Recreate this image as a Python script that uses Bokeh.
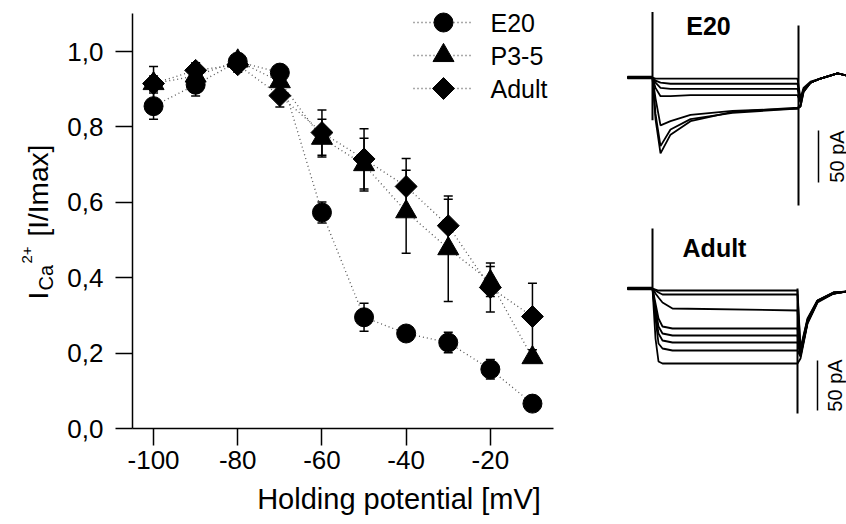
import math
from bokeh.plotting import figure
from bokeh.models import (Range1d, Whisker, TeeHead, ColumnDataSource, Label,
                          FixedTicker, CustomJSTickFormatter)
from bokeh.layouts import row, column
from bokeh.embed import file_html
from bokeh.resources import INLINE

FONT = "Liberation Sans"

# ---------------- data: steady-state inactivation ----------------
voltage = [-100, -90, -80, -70, -60, -50, -40, -30, -20, -10]
tick_mv = [-100, -80, -60, -40, -20]
tick_rel = [0.0, 0.2, 0.4, 0.6, 0.8, 1.0]

e20 = [0.855, 0.912, 0.973, 0.944, 0.573, 0.295, 0.252, 0.228, 0.157, 0.066]
e20_err = [0.035, 0.03, 0.02, 0.01, 0.028, 0.037, 0.01, 0.027, 0.026, 0.0]
p35 = [0.915, 0.935, 0.975, 0.92, 0.77, 0.70, 0.575, 0.477, 0.39, 0.188]
p35_err = [0.045, 0.03, 0.02, 0.02, 0.05, 0.07, 0.11, 0.14, 0.04, 0.0]
adult = [0.915, 0.95, 0.965, 0.883, 0.785, 0.715, 0.642, 0.538, 0.374, 0.297]
adult_err = [0.02, 0.02, 0.02, 0.03, 0.06, 0.08, 0.074, 0.07, 0.065, 0.088]

series_names = ["E20", "P3-5", "Adult"]

# ---------------- data: current traces (time ms, current pA) ----------------
e20_t = [-25, 0, 3, 8, 18, 38, 80, 145, 148, 151, 158, 168, 185, 194]
e20_traces = [
    [0, 0, -1, -1, -1, -1, -1, -1, -20, -10, -4, -1, 4, 2],
    [0, 0, -3, -5, -6, -6, -6, -6, -22, -12, -5, -1, 4, 2],
    [0, 0, -5, -10, -11, -11, -11, -11, -22, -12, -5, -1, 4, 2],
    [0, 0, -10, -18, -18, -17, -17, -17, -24, -12, -5, -1, 4, 2],
    [0, 0, -20, -46, -42, -36, -32, -30, -26, -13, -5, -1, 4, 2],
    [0, 0, -35, -66, -50, -40, -34, -30, -28, -14, -5, -1, 4, 2],
    [0, 0, -40, -73, -55, -42, -33, -29, -28, -14, -5, -1, 4, 2],
]
e20_artifact_t = [0, 146]
e20_artifact_top = [63, 50]
e20_artifact_bottom = [-41, -123]

adult_t = [-25, 0, 3, 6, 10, 20, 145, 148, 155, 165, 181, 194]
adult_traces = [
    [0, 0, -1, -2, -2, -2, -2, -60, -30, -12, -4, -3],
    [0, 0, -2, -4, -6, -6, -6, -62, -31, -12, -4, -3],
    [0, 0, -5, -9, -14, -20, -22, -63, -32, -12, -4, -3],
    [0, 0, -15, -30, -38, -40, -40, -65, -33, -13, -5, -3],
    [0, 0, -20, -38, -45, -47, -47, -66, -33, -13, -5, -3],
    [0, 0, -25, -45, -52, -54, -54, -67, -34, -13, -5, -3],
    [0, 0, -30, -55, -60, -62, -62, -68, -34, -13, -5, -3],
    [0, 0, -50, -73, -75, -75, -75, -70, -35, -14, -5, -3],
]
adult_artifact_t = [0, 145]
adult_artifact_top = [60, 0]
adult_artifact_bottom = [0, -125]

scale_bar_pA = 50

# ---------------- layout constants (page pixels) ----------------
YLAB_W = 64
MAIN_W = 560 - YLAB_W
MAIN_H = 482
XLAB_H = 524 - MAIN_H
FRAME_L = 132                    # page x of frame left
FRAME_B = 428                    # page y of frame bottom
BL, BR, BT = FRAME_L - YLAB_W, 7, 0
BB = MAIN_H - FRAME_B
XPX = 4.21                       # px per mV
YPX = 377.0                      # px per unit
XR = (-105, -105 + (MAIN_W - BL - BR) / XPX)
YR = (0, FRAME_B / YPX)


def dx(px):
    return XR[0] + (px - FRAME_L) / XPX


def dy(py):
    return (FRAME_B - py) / YPX


# ---------------- main plot ----------------
p = figure(width=MAIN_W, height=MAIN_H, x_range=Range1d(*XR), y_range=Range1d(*YR),
           output_backend="svg", toolbar_location=None, title=None,
           min_border_left=BL, min_border_right=BR, min_border_top=BT,
           min_border_bottom=BB)
p.xgrid.visible = False
p.ygrid.visible = False
p.outline_line_color = None

for ax in (p.xaxis[0], p.yaxis[0]):
    ax.axis_line_color = "black"
    ax.axis_line_width = 1.5
    ax.major_tick_line_color = "black"
    ax.major_tick_line_width = 1.5
    ax.major_tick_out = 17
    ax.major_tick_in = 0
    ax.minor_tick_out = 0
    ax.minor_tick_in = 0
    ax.major_label_text_font = FONT
    ax.major_label_text_font_size = "26px"
    ax.major_label_text_color = "black"

p.xaxis.ticker = FixedTicker(ticks=tick_mv)
p.yaxis.ticker = FixedTicker(ticks=tick_rel)
p.xaxis.formatter = CustomJSTickFormatter(code="return tick.toFixed(0);")
p.yaxis.formatter = CustomJSTickFormatter(code="return tick.toFixed(1).replace('.', ',');")
p.yaxis.major_label_standoff = 12
p.xaxis.major_label_standoff = 5
p.yaxis.bounds = (0, 1.1)

markers = [("circle", 19, 0.0), ("triangle", 21, 0.0), ("square", 15.5, math.pi / 4)]
vals = [e20, p35, adult]
errs = [e20_err, p35_err, adult_err]
LINE_COL = "#555555"
DASH = "1 3"

for v in vals:
    p.line(voltage, v, line_color=LINE_COL, line_width=1.3, line_dash=DASH)

for v, e in zip(vals, errs):
    xs = [x for x, ee in zip(voltage, e) if ee > 0]
    up = [y + ee for y, ee in zip(v, e) if ee > 0]
    lo = [y - ee for y, ee in zip(v, e) if ee > 0]
    src = ColumnDataSource(dict(base=xs, upper=up, lower=lo))
    w = Whisker(source=src, base="base", upper="upper", lower="lower",
                line_color="black", line_width=1.5,
                upper_head=TeeHead(size=9, line_width=1.5, line_color="black"),
                lower_head=TeeHead(size=9, line_width=1.5, line_color="black"))
    p.add_layout(w)

for (mk, sz, ang), v in zip(markers, vals):
    p.scatter(voltage, v, marker=mk, size=sz, angle=ang,
              fill_color="black", line_color="black")

# legend (drawn in the frame, top right)
LEG_Y = [22, 55, 88]
LEG_X0, LEG_XM, LEG_X1, LEG_TX = 413, 443, 472, 490
for (mk, sz, ang), name, ly in zip(markers, series_names, LEG_Y):
    p.segment([dx(LEG_X0)], [dy(ly)], [dx(LEG_X1)], [dy(ly)],
              line_color=LINE_COL, line_width=1.3, line_dash=DASH)
    p.scatter([dx(LEG_XM)], [dy(ly)], marker=mk, size=sz, angle=ang,
              fill_color="black", line_color="black")
    p.add_layout(Label(x=dx(LEG_TX), y=dy(ly), text=name, text_font=FONT,
                       text_font_size="25px", text_baseline="middle",
                       text_align="left", text_color="black"))


# ---------------- axis titles (own strips) ----------------
def blank(w, h):
    f = figure(width=w, height=h, x_range=Range1d(0, w), y_range=Range1d(h, 0),
               output_backend="svg", toolbar_location=None, title=None,
               x_axis_location=None, y_axis_location=None, min_border=0)
    f.xgrid.visible = False
    f.ygrid.visible = False
    f.outline_line_color = None
    return f


xlab = blank(MAIN_W, XLAB_H)
xlab.add_layout(Label(x=378 - YLAB_W, y=498 - MAIN_H, text="Holding potential [mV]",
                      text_font=FONT, text_font_size="29px", text_align="center",
                      text_baseline="middle", text_color="black"))

ylab = blank(YLAB_W, 524)
ylab_parts = [
    ("I", 38, 299, "28px"),
    ("Ca", 45, 290, "20px"),
    ("2+", 26, 263, "15px"),
    ("[I/Imax]", 38, 236, "28px"),
]
for txt, bx, sy, fs in ylab_parts:
    ylab.add_layout(Label(x=bx, y=sy, text=txt, angle=math.pi / 2,
                          angle_units="rad", text_font=FONT, text_font_size=fs,
                          text_align="left", text_baseline="alphabetic",
                          text_color="black"))

# ---------------- trace panels ----------------
W2 = 846 - 560
TX = (-92, -92 + W2)


def trace_panel(h, yr, t, traces, at, atop, abot, name, name_pos, bar_t, bar_lo, txt_t):
    f = figure(width=W2, height=h, x_range=Range1d(*TX), y_range=Range1d(*yr),
               output_backend="svg", toolbar_location=None, title=None,
               x_axis_location=None, y_axis_location=None, min_border=0)
    f.xgrid.visible = False
    f.ygrid.visible = False
    f.outline_line_color = None
    for tr in traces:
        f.line(t, tr, line_color="black", line_width=1.8)
    f.line([t[0], t[1]], [traces[0][0], traces[0][1]], line_color="black", line_width=3.5)
    f.segment(at, atop, at, abot, line_color="black", line_width=2)
    f.segment([bar_t], [bar_lo], [bar_t], [bar_lo - scale_bar_pA],
              line_color="black", line_width=1.5)
    f.add_layout(Label(x=txt_t, y=bar_lo - scale_bar_pA / 2, text=f"{scale_bar_pA} pA",
                       angle=math.pi / 2, angle_units="rad", text_font=FONT,
                       text_font_size="20px", text_align="center",
                       text_baseline="middle", text_color="black"))
    f.add_layout(Label(x=name_pos[0], y=name_pos[1], text=name, text_font=FONT,
                       text_font_size="25px", text_font_style="bold",
                       text_align="center", text_baseline="middle",
                       text_color="black"))
    return f


pa = trace_panel(220, (-220 / 1.04 + 77 / 1.04, 77 / 1.04), e20_t, e20_traces,
                 e20_artifact_t, e20_artifact_top, e20_artifact_bottom,
                 "E20", (56, 50), 166, -51, 184)
pb = trace_panel(304, (-236, 68), adult_t, adult_traces, adult_artifact_t,
                 adult_artifact_top, adult_artifact_bottom, "Adult", (62, 41),
                 165, -72, 182)

layout = row(ylab, column(p, xlab), column(pa, pb))
open("out.html", "w").write(file_html(layout, INLINE))
